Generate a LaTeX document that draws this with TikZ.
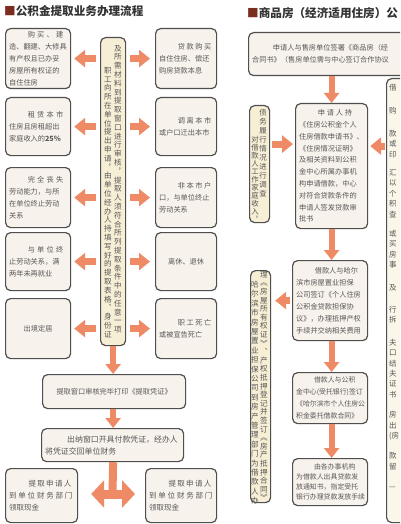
\documentclass[tikz,border=0pt]{standalone}
\usepackage{fontspec}
\newfontfamily\cjk{Noto Sans CJK SC}
\usetikzlibrary{arrows.meta}

\definecolor{boxline}{HTML}{4F4F4F}
\definecolor{boxfill}{HTML}{F8F2EC}
\definecolor{colfill}{HTML}{F6EED5}
\definecolor{notefill}{HTML}{FBF6EA}
\definecolor{flow}{HTML}{EE8A66}
\definecolor{txt}{HTML}{575757}
\definecolor{mark}{HTML}{7B2D1F}

% vertical text, one glyph per line
\def\vstackend{vstackendmark}
\def\vstackloop#1{\ifx#1\vstackend\else\hbox to 9pt{\hss#1\hss}\expandafter\vstackloop\fi}
\newcommand\vstack[2][8.8pt]{\vtop{\baselineskip=#1\relax\lineskiplimit=-\maxdimen\vstackloop#2\vstackend}}
% letter spaced lines, no break inside
\def\spreadloop#1{\ifx#1\vstackend\else#1\lkern\expandafter\spreadloop\fi}
\newcommand\leadline[2][2.2pt]{\mbox{\hspace*{2.6em}\def\lkern{\kern#1}\spreadloop#2\vstackend}}
\newcommand\spreadline[2][1.8pt]{\mbox{\def\lkern{\kern#1}\spreadloop#2\vstackend}}

\tikzset{
  flowbox/.style={draw=boxline, line width=1.2pt, rounded corners=5pt, fill=boxfill,
    anchor=north west, inner xsep=3.5pt, inner ysep=1pt, align=left, text=txt,
    font=\cjk\fontsize{7.2}{12}\selectfont},
  colbox/.style={draw=boxline, line width=1.2pt, rounded corners=5pt, fill=colfill,
    anchor=north west, inner sep=0pt},
  vcol/.style={anchor=north, inner sep=0pt, text=txt, font=\cjk\fontsize{7.6}{8.8}\selectfont},
  flowarrow/.style={draw=flow, line width=7pt, -{Triangle[length=11pt,width=17pt]}},
  downarrow/.style={draw=flow, line width=6pt, -{Triangle[length=10pt,width=15pt]}},
  paneltitle/.style={anchor=west, inner sep=0pt, text=black!80,
    font=\cjk\bfseries\fontsize{11.6}{12}\selectfont},
}

\begin{document}
\begin{tikzpicture}[x=1pt,y=-1pt]
    \useasboundingbox (0,0) rectangle (400,524);
    \clip (0,0) rectangle (400,524);
    \fill[white] (0,0) rectangle (400,524);
    % titles
    \node[paneltitle] (title1) at (4,11) {{\color{mark}■}公积金提取业务办理流程};
    \node[paneltitle] (title2) at (247,13) {{\color{mark}■}商品房（经济适用住房）公};

    % left panel, conditions
    \node[flowbox, text width=58pt, minimum height=60pt] (buy) at (5,28) {\leadline{购买、建}\\造、翻建、大修具\\有产权且已办妥\\房屋所有权证的\\自住住房};
    \node[flowbox, text width=58pt, minimum height=58pt] (rent) at (5,97) {\leadline{租赁本市}\\住房且房租超出\\家庭收入的\textbf{25\%}};
    \node[flowbox, text width=58pt, minimum height=60pt] (disab) at (5,167) {\leadline{完全丧失}\\劳动能力，与所\\在单位终止劳动\\关系};
    \node[flowbox, text width=58pt, minimum height=58pt] (quit) at (5,232) {\leadline{与单位终}\\止劳动关系，满\\两年未再就业};
    \node[flowbox, text width=58pt, minimum height=60pt, align=center] (abroad) at (5,298) {出境定居};

    \node[flowbox, text width=54pt, minimum height=60pt] (loan) at (155,28) {\leadline[1.6pt]{贷款购买}\\自住住房、偿还\\购房贷款本息};
    \node[flowbox, text width=54pt, minimum height=58pt] (leave) at (155,97) {\leadline[1.6pt]{调离本市}\\或户口迁出本市};
    \node[flowbox, text width=54pt, minimum height=60pt] (nonlocal) at (155,167) {\leadline[1.6pt]{非本市户}\\口，与单位终止\\劳动关系};
    \node[flowbox, text width=54pt, minimum height=58pt, align=center] (retire) at (155,232) {离休、退休};
    \node[flowbox, text width=54pt, minimum height=60pt] (death) at (155,298) {\leadline[1.6pt]{职工死亡}\\或被宣告死亡};

    % left panel, application
    \node[colbox, minimum width=25pt, minimum height=308pt] (apply) at (100,37) {};
    \node[vcol] (applyL) at (108,67) {\vstack{职工向所在单位提出申请︐由单位经办人持填写好的提取表格︑身份证}};
    \node[vcol] (applyR) at (118,45) {\vstack{及所需材料到提取窗口进行审核︐提取人须符合所列提取条件中的任意一项}};

    \node[flowbox, text width=136pt, minimum height=34pt, align=center] (print) at (42,374) {提取窗口审核完毕打印《提取凭证》};
    \node[flowbox, text width=135pt, minimum height=33pt, font=\cjk\fontsize{7.9}{12}\selectfont] (pay) at (41,428) {\hspace*{2.8em}出纳窗口开具付款凭证，经办人\\将凭证交回单位财务};
    \node[flowbox, text width=65pt, minimum height=54pt, font=\cjk\fontsize{7.5}{12}\selectfont] (getL) at (5,468) {\leadline[1.3pt]{提取申请人}\\\spreadline{到单位财务部门}\\领取现金};
    \node[flowbox, text width=64pt, minimum height=54pt, font=\cjk\fontsize{7.5}{12}\selectfont] (getR) at (145,468) {\leadline[1.3pt]{提取申请人}\\\spreadline{到单位财务部门}\\领取现金};
    \coordinate (split) at (112.5,494);

    % left panel, arrows
    \draw[flowarrow, shorten <=4pt, shorten >=3pt] (apply.west |- buy) -- (buy.east);
    \draw[flowarrow, shorten <=4pt, shorten >=3pt] (apply.west |- rent) -- (rent.east);
    \draw[flowarrow, shorten <=4pt, shorten >=3pt] (apply.west |- disab) -- (disab.east);
    \draw[flowarrow, shorten <=4pt, shorten >=3pt] (apply.west |- quit) -- (quit.east);
    \draw[flowarrow, shorten <=4pt, shorten >=3pt] (apply.west |- abroad) -- (abroad.east);
    \draw[flowarrow, shorten <=4pt, shorten >=5pt] (apply.east |- loan) -- (loan.west);
    \draw[flowarrow, shorten <=4pt, shorten >=5pt] (apply.east |- leave) -- (leave.west);
    \draw[flowarrow, shorten <=4pt, shorten >=5pt] (apply.east |- nonlocal) -- (nonlocal.west);
    \draw[flowarrow, shorten <=4pt, shorten >=5pt] (apply.east |- retire) -- (retire.west);
    \draw[flowarrow, shorten <=4pt, shorten >=5pt] (apply.east |- death) -- (death.west);
    \draw[downarrow] (apply.south) -- (apply.south |- print.north);
    \draw[downarrow] (apply.south |- print.south) -- (apply.south |- pay.north);
    \draw[draw=flow, line width=8pt] (apply.south |- pay.south) -- (split);
    \draw[flowarrow, line width=9pt, -{Triangle[length=13pt,width=27pt]}, shorten >=13pt] (split) -- (getL.east |- split);
    \draw[flowarrow, line width=9pt, -{Triangle[length=13pt,width=27pt]}, shorten >=10pt] (split) -- (getR.west |- split);

    % right panel, steps
    \node[flowbox, text width=160pt, minimum height=43pt] (sign) at (248,32) {\hspace*{2.9em}申请人与售房单位签署《商品房（经\\合同书》（售房单位需与中心签订合作协议};
    \node[flowbox, text width=65pt, minimum height=125pt, font=\cjk\fontsize{7.2}{11.8}\selectfont] (loanapp) at (295,103) {\leadline[1.8pt]{申请人持}\\《住房公积金个人\\住房借款申请书》、\\《住房情况证明》\\及相关资料到公积\\金中心所属办事机\\构申请借款，中心\\对符合贷款条件的\\申请人签发贷款审\\批书};
    \node[flowbox, text width=68pt, minimum height=80pt, font=\cjk\fontsize{7.2}{12}\selectfont] (guar) at (292,260) {\hspace*{2.6em}借款人与哈尔\\滨市房屋置业担保\\公司签订《个人住房\\公积金贷款担保协\\议》，办理抵押产权\\手续并交纳相关费用};
    \node[flowbox, text width=68pt, minimum height=51pt, font=\cjk\fontsize{6.9}{12}\selectfont] (contract) at (292,372) {\hspace*{2.6em}借款人与公积\\金中心(受托银行)签订\\《哈尔滨市个人住房公\\积金委托借款合同》};
    \node[flowbox, text width=68pt, minimum height=47pt, font=\cjk\fontsize{6.9}{10}\selectfont] (issue) at (292,458) {\hspace*{2.6em}由各办事机构\\为借款人出具贷款发\\放通知书，指定受托\\银行办理贷款发放手续};

    % right panel, side notes
    \node[colbox, minimum width=20pt, minimum height=117pt] (survey) at (249,105) {};
    \node[vcol, font=\cjk\fontsize{7.4}{8}\selectfont] (surveyL) at (255,136) {\vstack[8pt]{对借款人工作家庭收入︐}};
    \node[vcol, font=\cjk\fontsize{7.4}{8}\selectfont] (surveyR) at (263,109) {\vstack[9pt]{债务履行情况进行调查}};
    \node[colbox, minimum width=20pt, minimum height=232pt] (mortg) at (250,270) {};
    \node[vcol, font=\cjk\fontsize{7.6}{9}\selectfont] (mortgL) at (255,281) {\vstack[9.4pt]{哈尔滨市房屋置业担保公司到房产管理部门为借款人办}};
    \node[vcol, font=\cjk\fontsize{7.6}{9}\selectfont] (mortgR) at (264,271) {\vstack[8.6pt]{理︽房屋所有权证︾︑产权抵押登记并签订︽房产抵押合同︾}};
    \node[colbox, fill=notefill, minimum width=30pt, minimum height=444pt] (notes) at (386,78) {};
    \node[anchor=north west, inner sep=0pt, align=left, text=txt, font=\cjk\fontsize{7.5}{10.4}\selectfont] (notestext) at (389,84) {借\\[13pt]购\\[12pt]款\\或\\印\\[8pt]汇\\以\\个\\积\\查\\[9pt]或\\买\\房\\事\\[12pt]及\\[12pt]行\\拆\\[12pt]夫\\口\\结\\夫\\证\\书\\[10pt]房\\出\\(房\\[10pt]款\\留\\[10pt]—};

    % right panel, arrows
    \draw[downarrow] (loanapp.north |- sign.south) -- (loanapp.north);
    \draw[downarrow] (loanapp.south) -- (loanapp.south |- guar.north);
    \draw[downarrow] (loanapp.south |- guar.south) -- (loanapp.south |- contract.north);
    \draw[downarrow] (loanapp.south |- contract.south) -- (loanapp.south |- issue.north);
    \draw[flowarrow, shorten <=2pt, shorten >=2pt] ([yshift=20pt]survey.east) -- ([yshift=20pt]survey.east -| loanapp.west);
    \draw[flowarrow, shorten <=1pt, shorten >=2pt] ([yshift=20pt]loanapp.east -| notes.west) -- ([yshift=20pt]loanapp.east);
    \draw[flowarrow, shorten <=2pt, shorten >=4pt] (guar.west) -- (guar.west -| mortg.east);
\end{tikzpicture}
\end{document}
